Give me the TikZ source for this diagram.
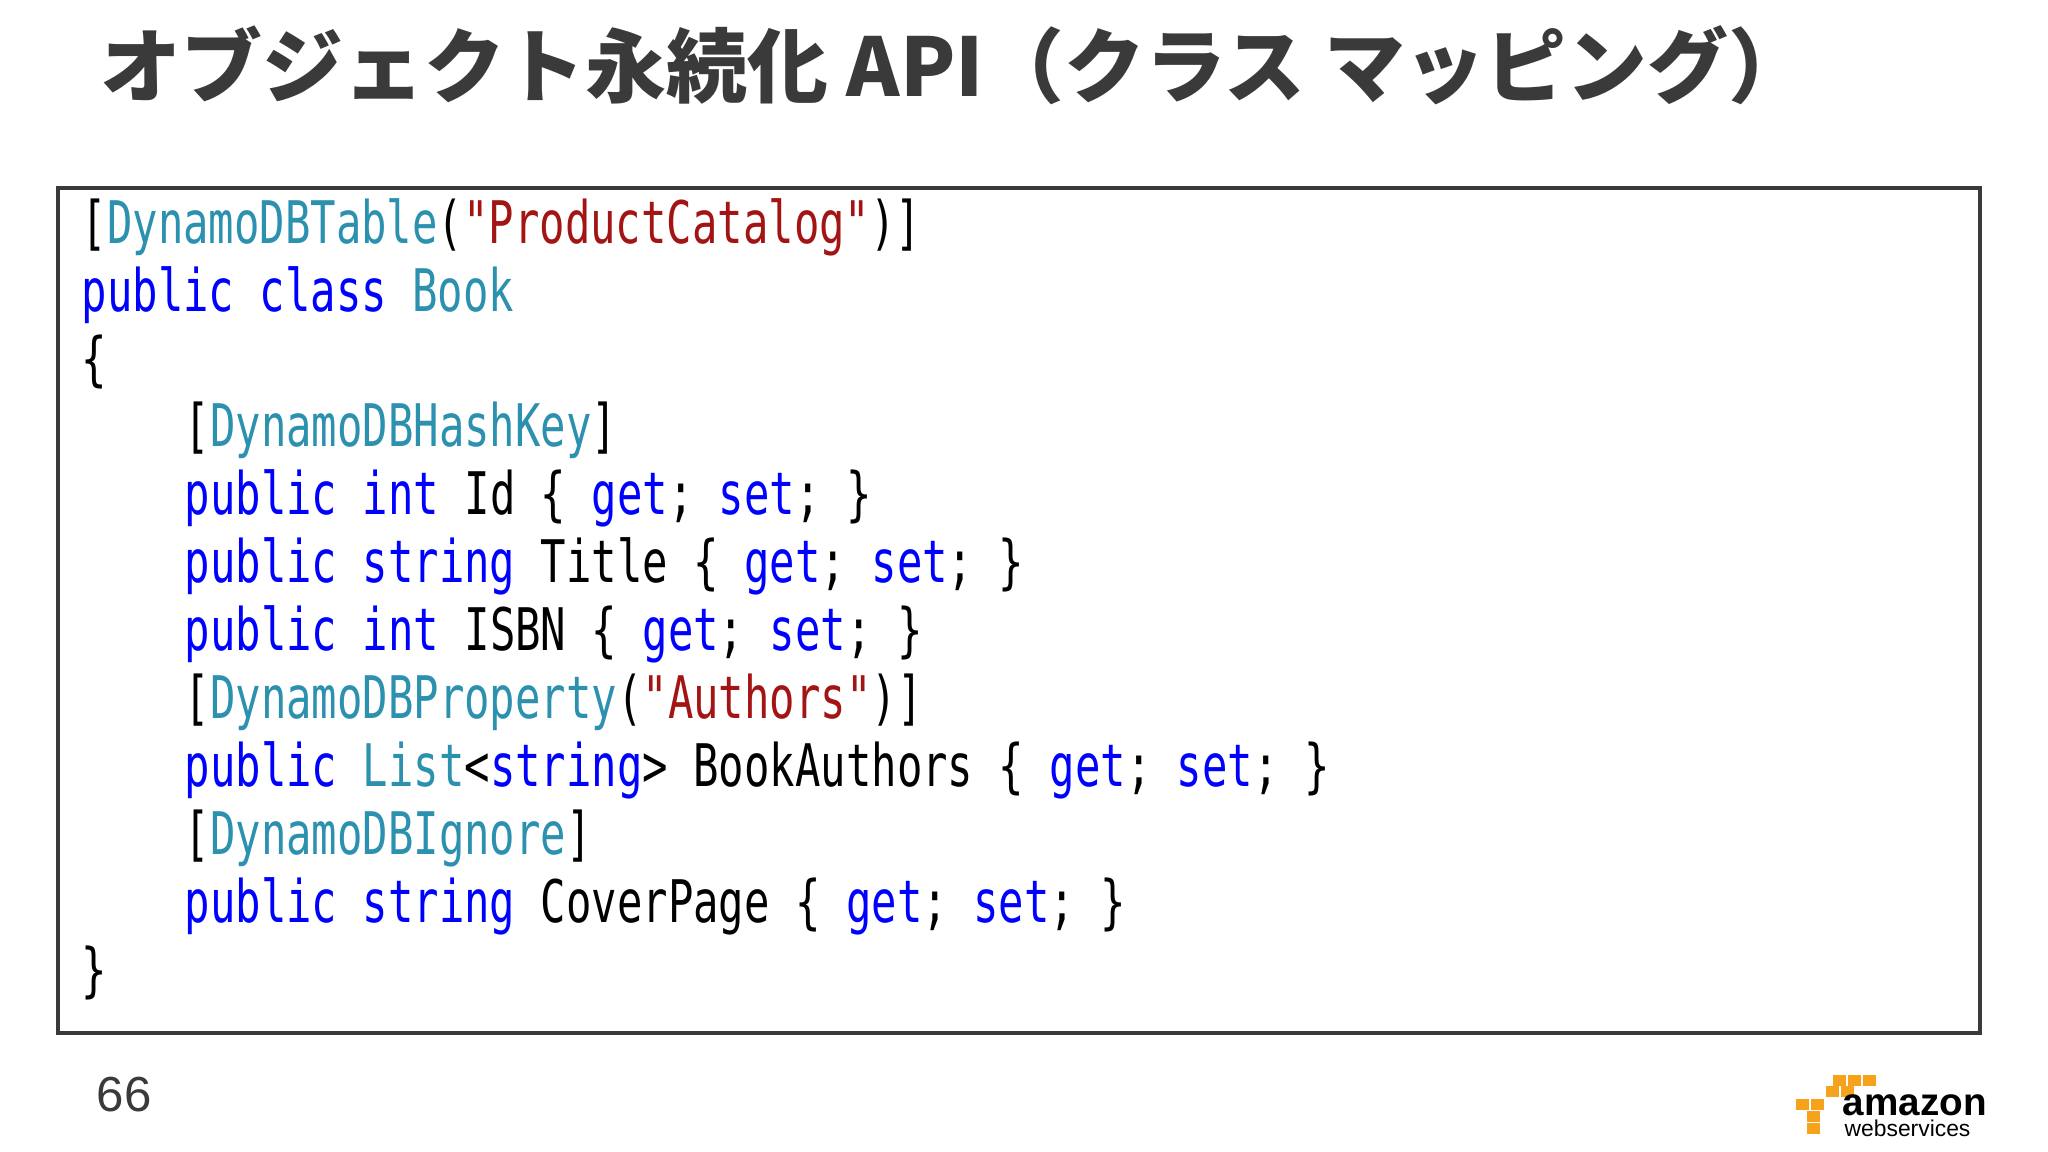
\documentclass[tikz,border=0pt]{standalone}
\usepackage{fontspec}
\newfontfamily\jp{Noto Sans CJK JP}
\newfontfamily\code[FakeStretch=0.72]{DejaVu Sans Mono}
\setmainfont{Liberation Sans}
\definecolor{kw}{HTML}{0000FF}
\definecolor{ty}{HTML}{2B91AF}
\definecolor{st}{HTML}{A31515}
\definecolor{tt}{HTML}{3A3A3A}
\definecolor{aws}{HTML}{F7A21B}
\newcommand{\K}[1]{\textcolor{kw}{#1}}
\newcommand{\T}[1]{\textcolor{ty}{#1}}
\newcommand{\Sx}[1]{\textcolor{st}{#1}}
\begin{document}
\begin{tikzpicture}[x=1cm,y=1cm,
  cl/.style={anchor=base west,inner sep=0pt,font=\code\fontsize{16.7}{18}\selectfont}]
\useasboundingbox (0,0) rectangle (20.48,11.52);
\fill[white] (0,0) rectangle (20.48,11.52);
\node[anchor=base west,inner sep=0pt,text=tt,font=\jp\bfseries\fontsize{23}{26}\selectfont] (title) at (1.0,10.55) {オブジェクト永続化 API（クラス マッピング）};
\draw[line width=0.04cm,draw=tt] (0.58,1.19) rectangle (19.80,9.64);
\def\a{0.81}\def\b{1.84}
\node[cl] (l1) at (\a,9.08) {[\T{DynamoDBTable}(\Sx{"ProductCatalog"})]};
\node[cl] (l2) at (\a,8.40) {\K{public class} \T{Book}};
\node[cl] (l3) at (\a,7.72) {\{};
\node[cl] (l4) at (\b,7.05) {[\T{DynamoDBHashKey}]};
\node[cl] (l5) at (\b,6.37) {\K{public int} Id \{ \K{get}; \K{set}; \}};
\node[cl] (l6) at (\b,5.69) {\K{public string} Title \{ \K{get}; \K{set}; \}};
\node[cl] (l7) at (\b,5.01) {\K{public int} ISBN \{ \K{get}; \K{set}; \}};
\node[cl] (l8) at (\b,4.33) {[\T{DynamoDBProperty}(\Sx{"Authors"})]};
\node[cl] (l9) at (\b,3.65) {\K{public} \T{List}<\K{string}> BookAuthors \{ \K{get}; \K{set}; \}};
\node[cl] (l10) at (\b,2.97) {[\T{DynamoDBIgnore}]};
\node[cl] (l11) at (\b,2.29) {\K{public string} CoverPage \{ \K{get}; \K{set}; \}};
\node[cl] (l12) at (\a,1.61) {\}};
\node[anchor=base west,inner sep=0pt,text=tt,font=\fontsize{14}{16}\selectfont] (pg) at (0.96,0.40) {66};
% aws logo
\foreach \x/\y in {17.96/0.42,18.11/0.42,18.07/0.30,18.07/0.18,18.26/0.55,18.41/0.55,18.33/0.66,18.48/0.66,18.63/0.66}
  \fill[aws] (\x,\y) rectangle ++(0.13,0.11);
\node[anchor=base west,inner sep=0pt,font=\bfseries\fontsize{11}{11}\selectfont] (amz) at (18.42,0.36) {amazon};
\node[anchor=base west,inner sep=0pt,font=\fontsize{6.5}{7}\selectfont] (ws) at (18.44,0.15) {webservices};
\end{tikzpicture}
\end{document}
